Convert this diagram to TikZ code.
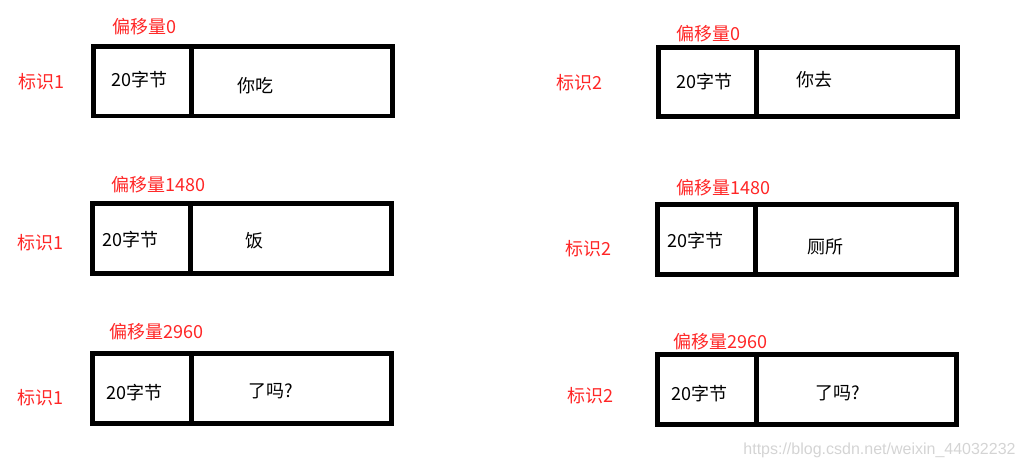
\documentclass[tikz,border=0pt]{standalone}
\usepackage{fontspec}
\usepackage{xcolor}
\usepackage{tikz}
\newfontfamily\cjk{Noto Sans CJK SC}
\newfontfamily\wmfont{Liberation Sans}
\definecolor{ink}{HTML}{000000}
\definecolor{tagred}{HTML}{FF2626}
\definecolor{wmgray}{HTML}{D4D4D4}
\tikzset{
  cell/.style={draw=ink, line width=4.7pt, line join=miter},
  txt/.style={text=ink, font=\cjk\fontsize{18}{20}\selectfont, inner sep=0pt, anchor=west},
  tag/.style={text=tagred, font=\cjk\fontsize{18}{20}\selectfont, inner sep=0pt, anchor=west},
  wm/.style={text=wmgray, font=\wmfont\fontsize{16}{18}\selectfont, inner sep=0pt}
}

\begin{document}
\begin{tikzpicture}[x=1pt, y=-1pt]
  \useasboundingbox (0,0) rectangle (1025,469);

  % fragments of packet 1
  \draw[cell] (93.5,46.3) rectangle (392.7,116);
  \draw[cell] (191.7,46.3) -- (191.7,116);
  \draw[cell] (92.3,203.3) rectangle (391.7,273.7);
  \draw[cell] (190.8,203.3) -- (190.8,273.7);
  \draw[cell] (92.3,353.3) rectangle (391.7,423.7);
  \draw[cell] (191.5,353.3) -- (191.5,423.7);

  % fragments of packet 2
  \draw[cell] (658.3,47.3) rectangle (957.7,116.7);
  \draw[cell] (756.5,47.3) -- (756.5,116.7);
  \draw[cell] (657.3,204.3) rectangle (956.7,274.7);
  \draw[cell] (755.5,204.3) -- (755.5,274.7);
  \draw[cell] (657.3,354.3) rectangle (956.7,424.7);
  \draw[cell] (756.3,354.3) -- (756.3,424.7);

  \node[tag] (off1a) at (112,27) {偏移量0};
  \node[tag] (id1a) at (18,82) {标识1};
  \node[txt] (hd1a) at (111,80) {20字节};
  \node[txt] (dt1a) at (237,86) {你吃};

  \node[tag] (off1b) at (111,185) {偏移量1480};
  \node[tag] (id1b) at (17,243) {标识1};
  \node[txt] (hd1b) at (102,240) {20字节};
  \node[txt] (dt1b) at (245,241) {饭};

  \node[tag] (off1c) at (109.5,332) {偏移量2960};
  \node[tag] (id1c) at (17,398) {标识1};
  \node[txt] (hd1c) at (106,393) {20字节};
  \node[txt] (dt1c) at (248.5,391) {了吗?};

  \node[tag] (off2a) at (676,34) {偏移量0};
  \node[tag] (id2a) at (556.5,83) {标识2};
  \node[txt] (hd2a) at (676,82) {20字节};
  \node[txt] (dt2a) at (796.5,80) {你去};

  \node[tag] (off2b) at (676,188) {偏移量1480};
  \node[tag] (id2b) at (565.5,249) {标识2};
  \node[txt] (hd2b) at (667,241) {20字节};
  \node[txt] (dt2b) at (807,247) {厕所};

  \node[tag] (off2c) at (673,342) {偏移量2960};
  \node[tag] (id2c) at (567.5,396) {标识2};
  \node[txt] (hd2c) at (671,394) {20字节};
  \node[txt] (dt2c) at (815.5,393) {了吗?};

  \node[wm] (mark) at (879.5,450) {https://blog.csdn.net/weixin\_44032232};
\end{tikzpicture}
\end{document}
